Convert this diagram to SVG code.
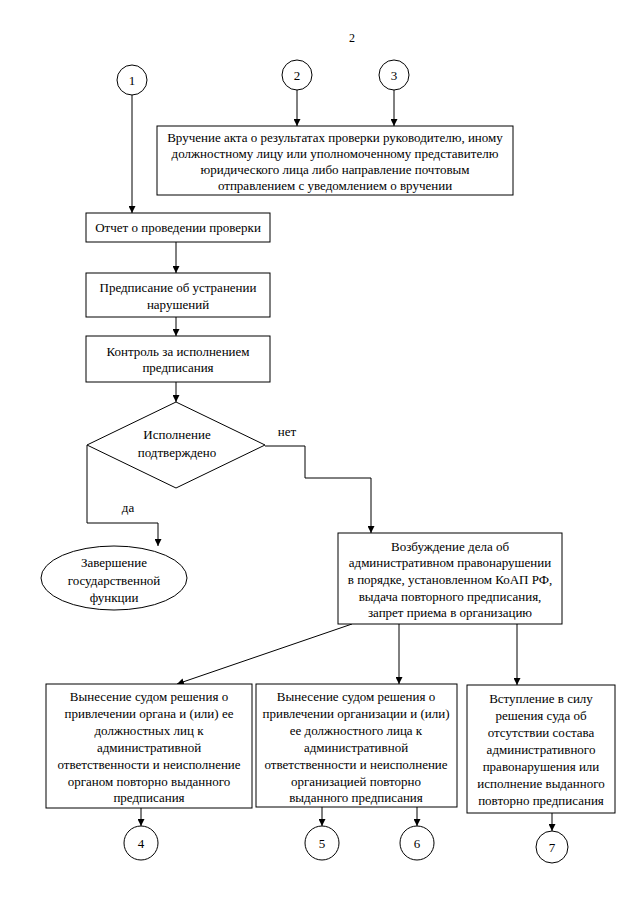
<svg xmlns="http://www.w3.org/2000/svg" width="640" height="905" viewBox="0 0 640 905">
<defs>
<style>
text{font-family:'Liberation Serif','DejaVu Serif',serif;font-size:13px;fill:#000;text-anchor:middle}
.n{fill:#fff;stroke:#000;stroke-width:1}
.c{fill:none;stroke:#000;stroke-width:1}
</style>
<marker id="ah" viewBox="0 0 10 10" refX="10" refY="5" markerWidth="7" markerHeight="7" orient="auto" markerUnits="userSpaceOnUse">
<path d="M0,0 L10,5 L0,10 z" fill="#000"/>
</marker>
</defs>
<rect width="640" height="905" fill="#fff"/>
<g font-family="Liberation Serif, DejaVu Serif, serif">
<text x="352" y="42" style="font-size:12px">2</text>
<g id="connectors">
<path class="c" d="M132,95 V213" marker-end="url(#ah)"/>
<path class="c" d="M297,90 V126" marker-end="url(#ah)"/>
<path class="c" d="M394,90 V126" marker-end="url(#ah)"/>
<path class="c" d="M176,242 V273" marker-end="url(#ah)"/>
<path class="c" d="M176,317 V336" marker-end="url(#ah)"/>
<path class="c" d="M176,382 V402" marker-end="url(#ah)"/>
<path class="c" d="M265,446 H305 V478 H371 V533" marker-end="url(#ah)"/>
<path class="c" d="M87,445 V523 H158 V546" marker-end="url(#ah)"/>
<path class="c" d="M352,624 L177,684" marker-end="url(#ah)"/>
<path class="c" d="M399,624 V684" marker-end="url(#ah)"/>
<path class="c" d="M517,624 V685" marker-end="url(#ah)"/>
<path class="c" d="M141,808 V826" marker-end="url(#ah)"/>
<path class="c" d="M322,807 V826" marker-end="url(#ah)"/>
<path class="c" d="M417,807 V826" marker-end="url(#ah)"/>
<path class="c" d="M552,813 V831" marker-end="url(#ah)"/>
</g>
<g id="n1"><circle class="n" cx="132" cy="80" r="15"/><text x="132" y="85">1</text></g>
<g id="n2"><circle class="n" cx="297" cy="75" r="15"/><text x="297" y="80">2</text></g>
<g id="n3"><circle class="n" cx="394" cy="75" r="15"/><text x="394" y="80">3</text></g>
<g id="vruchenie"><rect class="n" x="157" y="126" width="356" height="69"/>
<text x="335" y="142">Вручение акта о результатах проверки руководителю, иному</text>
<text x="335" y="158">должностному лицу или уполномоченному представителю</text>
<text x="335" y="174">юридического лица либо направление почтовым</text>
<text x="335" y="190">отправлением с уведомлением о вручении</text></g>
<g id="otchet"><rect class="n" x="86" y="213" width="184" height="29"/>
<text x="178" y="232">Отчет о проведении проверки</text></g>
<g id="predpisanie"><rect class="n" x="86" y="273" width="184" height="44"/>
<text x="178" y="292">Предписание об устранении</text>
<text x="178" y="309">нарушений</text></g>
<g id="kontrol"><rect class="n" x="86" y="336" width="184" height="46"/>
<text x="178" y="356">Контроль за исполнением</text>
<text x="178" y="372">предписания</text></g>
<g id="decision"><path class="n" d="M176,402 L265,445 L176,488 L87,445 Z"/>
<text x="177" y="439">Исполнение</text>
<text x="177" y="457">подтверждено</text></g>
<text x="287" y="436">нет</text>
<text x="128" y="512">да</text>
<g id="zavershenie"><ellipse class="n" cx="114" cy="578" rx="73" ry="32"/>
<text x="114" y="567">Завершение</text>
<text x="114" y="585">государственной</text>
<text x="114" y="602">функции</text></g>
<g id="vozbuzhdenie"><rect class="n" x="338" y="533" width="224" height="91"/>
<text x="450" y="551">Возбуждение дела об</text>
<text x="450" y="567">административном правонарушении</text>
<text x="450" y="584">в порядке, установленном КоАП РФ,</text>
<text x="450" y="601">выдача повторного предписания,</text>
<text x="450" y="617">запрет приема в организацию</text></g>
<g id="boxA"><rect class="n" x="46" y="684" width="206" height="124"/>
<text x="149" y="701">Вынесение судом решения о</text>
<text x="149" y="718">привлечении органа и (или) ее</text>
<text x="149" y="735">должностных лиц к</text>
<text x="149" y="752">административной</text>
<text x="149" y="769">ответственности и неисполнение</text>
<text x="149" y="786">органом  повторно выданного</text>
<text x="149" y="802">предписания</text></g>
<g id="boxB"><rect class="n" x="256" y="684" width="201" height="123"/>
<text x="356" y="701">Вынесение судом решения о</text>
<text x="356" y="718">привлечении организации и (или)</text>
<text x="356" y="735">ее должностного лица к</text>
<text x="356" y="752">административной</text>
<text x="356" y="769">ответственности и неисполнение</text>
<text x="356" y="786">организацией  повторно</text>
<text x="356" y="802">выданного предписания</text></g>
<g id="boxC"><rect class="n" x="467" y="685" width="148" height="128"/>
<text x="541" y="703">Вступление в силу</text>
<text x="541" y="720">решения суда об</text>
<text x="541" y="737">отсутствии состава</text>
<text x="541" y="754">административного</text>
<text x="541" y="771">правонарушения или</text>
<text x="541" y="788">исполнение выданного</text>
<text x="541" y="805">повторно предписания</text></g>
<g id="n4"><circle class="n" cx="141" cy="843" r="17"/><text x="141" y="848">4</text></g>
<g id="n5"><circle class="n" cx="322" cy="843" r="17"/><text x="322" y="848">5</text></g>
<g id="n6"><circle class="n" cx="417" cy="843" r="17"/><text x="417" y="848">6</text></g>
<g id="n7"><circle class="n" cx="552" cy="847" r="16"/><text x="552" y="852">7</text></g>
</g>
</svg>
